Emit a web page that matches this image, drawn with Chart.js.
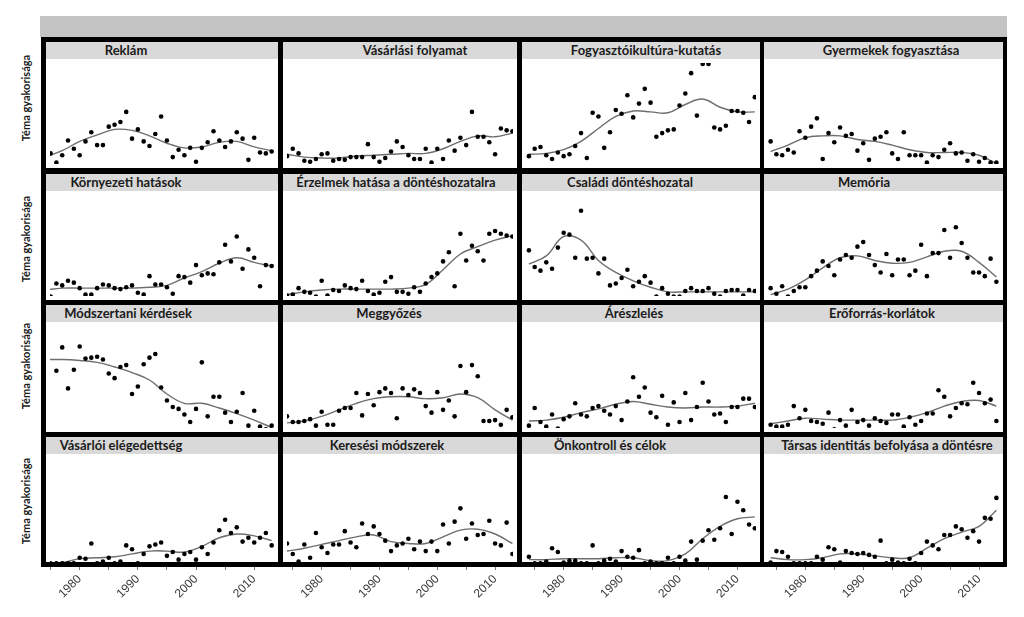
<!DOCTYPE html>
<html>
<head>
<meta charset="utf-8">
<script src="https://cdn.jsdelivr.net/npm/chart.js@4.4.1/dist/chart.umd.min.js"></script>
<style>
	body { margin: 0; width: 1024px; height: 617px; position: relative; overflow: hidden; background: #fff; font-family: Lato, 'Noto Sans', sans-serif; }
	.topbar { position: absolute; left: 40px; top: 16px; width: 967px; height: 21px; background: #c4c4c4; }
	.frame { position: absolute; left: 41px; top: 37px; width: 966px; height: 530px; background: #000; }
	.panel { position: absolute; background: #fff; }
	.strip { position: absolute; left: 0; top: 0; right: 0; height: 17px; background: #d9d9d9; }
	.strip span { position: absolute; top: 0; line-height: 17px; font-size: 13px; font-weight: bold; color: #1b1b1b; white-space: nowrap; transform: translateX(-50%); }
	.ylab { position: absolute; left: 25px; font-size: 11px; font-weight: bold; color: #1b1b1b; white-space: nowrap; transform: translate(-50%, -50%) rotate(-90deg); }
	canvas { position: absolute; }
</style>
</head>
<body>
<div class="topbar"></div>
<div class="frame"></div>

<script>
// évek (x)
const years = [1974, 1975, 1976, 1977, 1978, 1979, 1980, 1981, 1982, 1983,
	1984, 1985, 1986, 1987, 1988, 1989, 1990, 1991, 1992, 1993,
	1994, 1995, 1996, 1997, 1998, 1999, 2000, 2001, 2002, 2003,
	2004, 2005, 2006, 2007, 2008, 2009, 2010, 2011, 2012, 2013];
const trendYears = [1974, 1977, 1980, 1983, 1986, 1989, 1992, 1995, 1998, 2001, 2004, 2007, 2010, 2013];
const tickYears = [1975, 1980, 1985, 1990, 1995, 2000, 2005, 2010];
const tickLabels = ['1980', '1990', '2000', '2010'];
const yLabel = 'Téma gyakorisága';

const titles = [
	'Reklám', 'Vásárlási folyamat', 'Fogyasztóikultúra-kutatás', 'Gyermekek fogyasztása',
	'Környezeti hatások', 'Érzelmek hatása a döntéshozatalra', 'Családi döntéshozatal', 'Memória',
	'Módszertani kérdések', 'Meggyőzés', 'Árészlelés', 'Erőforrás-korlátok',
	'Vásárlói elégedettség', 'Keresési módszerek', 'Önkontroll és célok', 'Társas identitás befolyása a döntésre'
];

// pontok, évenként (null = nem látszik)
const reklam = [null, 13, 3, 11, 27, 18, 11, 26, 36, 22, 22, 42, 44, 47, 58, 29, 39, 26, 21, 34, 53, 27, 9, 17, 11, 19, 4, 19, 25, 37, 27, 20, 26, 36, 29, 6, 30, 14, 13, 15];
const vasarlasi = [10, 18, 13, 5, 4, 7, 12, 13, 5, 7, 6, 9, 9, 9, 23, 9, 4, 8, 15, 26, 20, 11, 7, 7, 18, 3, 18, 7, 27, 16, 30, 22, 58, 31, 31, 25, 12, 40, 38, 37];
const fogyKultura = [10, 18, 20, 11, 7, 14, 10, 12, 21, 35, 8, 57, 53, 19, 36, 60, 56, 76, 52, 67, 83, 68, 31, 35, 38, 39, 65, 78, 100, 54, 110, 110, 41, 39, 43, 59, 59, 57, 47, 74];
const gyermekek = [26, 12, 11, 17, 14, 37, 30, 42, 51, 7, 35, 25, 41, 32, 34, 16, 24, 6, 29, 31, 36, 13, 7, 36, 11, 11, 11, 3, 11, 9, 17, 24, 13, 14, 5, 12, 4, 8, 3, 3];
const kornyezeti = [null, 1, 15, 13, 18, 16, 10, 3, 3, 10, 14, 13, 10, 9, 11, 13, 5, 3, 23, 14, 14, 11, 4, 23, 22, 16, 35, 24, 26, 25, 38, 57, 39, 66, 31, 52, 43, 12, 35, 34];
const erzelmek = [2, 3, 10, 6, 5, 1, 18, 2, 8, 7, 13, 10, 9, 18, 7, 3, 5, 17, 22, 6, 6, 4, 11, 6, 15, 22, 26, 39, 49, 12, 69, 40, 56, 50, 40, 69, 72, 69, 67, 66];
const csaladi = [51, 33, 29, 38, 31, 54, 70, 68, 43, 94, 42, 43, 26, 42, 13, 15, 21, 30, 12, 17, 23, 16, 1, 10, 4, 1, 1, 7, 10, 7, 7, 10, 4, 1, 7, 8, 8, 2, 8, 7];
const memoria = [10, 4, 12, 1, 7, 11, 11, 23, 29, 39, 34, 24, 41, 46, 43, 55, 60, 46, 35, 27, 47, 24, 41, 41, 24, 29, 57, 23, 48, 48, 73, 43, 76, 59, 43, 27, 27, 23, 42, 17];
const modszertani = [null, null, 63, 88, 44, 64, 89, 76, 77, 78, 75, 60, 55, 67, 69, 38, 46, 70, 77, 81, 45, 31, 24, 22, 16, 8, 22, 72, 14, 35, 35, 18, 8, 19, 39, 4, 20, 3, 0, 4];
const meggyozes = [14, 8, 8, 9, 11, 4, 19, 5, 5, 20, 23, 23, 39, 15, 38, 26, 40, 44, 39, 12, 44, 37, 43, 39, 25, 18, 40, 21, 31, 14, 68, 40, 69, 57, 9, 9, 10, 5, 21, 13];
const areszleles = [4, 23, 8, 3, 16, 1, 11, 14, 28, 16, 14, 23, 25, 20, 16, 25, 10, 30, 56, 35, 45, 18, 13, 36, 5, 29, 8, 39, 10, 24, 50, 30, 16, 17, 8, 24, 24, 33, 33, 24];
const eroforras = [5, 3, 3, 5, 25, 12, 21, 9, 8, 6, 18, 0, 10, 4, 21, 8, 10, 4, 12, 9, 7, 16, 16, 3, 13, 5, 9, 17, 17, 42, 35, 14, 23, 28, 27, 50, 39, 28, 32, 9];
const elegedettseg = [null, 0, 0, 0, 0, 0, 6, 5, 21, 0, 2, 6, 0, 2, 19, 15, 0, 10, 18, 20, 22, 8, 12, 4, 10, 12, 4, 17, 10, 22, 35, 46, 32, 38, 23, 27, 22, 27, 32, 19];
const kereses = [21, 10, 2, 20, 6, 32, 17, 11, 20, 20, 34, 22, 17, 42, 31, 39, 31, 24, 13, 19, 21, 26, 15, 23, 13, 23, 13, 41, 21, 44, 58, 26, 42, 30, 31, 45, 21, 19, 43, 10];
const onkontroll = [7, 0, 0, 2, 16, 12, 1, 3, 3, 0, 0, 19, 0, 3, 5, 2, 13, 7, 6, 14, 0, 2, 0, 0, 6, 0, 7, 3, 23, 4, 24, 35, 25, 37, 70, 31, 65, 56, 41, 37];
const tarsas = [1, 13, 12, 7, 0, 0, 0, 0, 7, 4, 17, 15, 1, 13, 11, 10, 11, 9, 7, 24, 0, 4, 1, 0, 5, 0, 11, 23, 19, 15, 30, 30, 39, 36, 27, 34, 23, 48, 47, 69];

// simított görbék (trendYears)
const reklamTrend = [9, 16, 26, 33, 39, 38, 32, 24, 19, 20, 25, 26, 20, 16];
const vasarlasiTrend = [12, 9, 8, 8, 10, 11, 12, 13, 13, 18, 26, 32, 31, 35];
const fogyKulturaTrend = [12, 13, 17, 26, 40, 53, 59, 58, 57, 66, 72, 63, 58, 58];
const gyermekekTrend = [15, 22, 30, 32, 32, 28, 26, 22, 17, 14, 14, 14, 11, 2];
const kornyezetiTrend = [8, 10, 10, 10, 10, 10, 11, 13, 21, 28, 37, 43, 38, 34];
const erzelmekTrend = [3, 6, 8, 9, 9, 9, 9, 10, 14, 30, 47, 55, 62, 67];
const csaladiTrend = [36, 45, 66, 62, 40, 27, 18, 11, 6, 6, 6, 6, 6, 6];
const memoriaTrend = [3, 9, 19, 32, 43, 45, 40, 37, 38, 44, 50, 50, 38, 22];
const modszertaniTrend = [75, 75, 74, 72, 67, 61, 53, 38, 28, 28, 23, 17, 10, 2];
const meggyozesTrend = [7, 9, 14, 21, 28, 33, 35, 35, 33, 34, 38, 34, 21, 10];
const areszlelesTrend = [9, 10, 13, 18, 22, 27, 30, 27, 24, 23, 24, 24, 25, 28];
const eroforrasTrend = [6, 9, 12, 11, 10, 10, 10, 10, 13, 18, 25, 30, 31, 25];
const elegedettsegTrend = [0, 1, 5, 6, 7, 10, 13, 13, 12, 18, 27, 31, 29, 24];
const keresesTrend = [13, 16, 20, 24, 28, 30, 23, 21, 21, 28, 35, 36, 31, 21];
const onkontrollTrend = [4, 4, 5, 5, 5, 6, 6, 3, 3, 10, 26, 39, 47, 49];
const tarsasTrend = [6, 4, 4, 6, 10, 10, 8, 6, 6, 16, 26, 33, 39, 56];

const pointSeries = [reklam, vasarlasi, fogyKultura, gyermekek, kornyezeti, erzelmek, csaladi, memoria,
	modszertani, meggyozes, areszleles, eroforras, elegedettseg, kereses, onkontroll, tarsas];
const trendSeries = [reklamTrend, vasarlasiTrend, fogyKulturaTrend, gyermekekTrend, kornyezetiTrend, erzelmekTrend,
	csaladiTrend, memoriaTrend, modszertaniTrend, meggyozesTrend, areszlelesTrend, eroforrasTrend,
	elegedettsegTrend, keresesTrend, onkontrollTrend, tarsasTrend];

// --- layout (pixels) ---
const colLeft = [46, 283, 522, 764];
const colWidth = [232, 234, 238, 239];
const colRange = [[1974.9, 2013.4], [1974.0, 2013.1], [1973.5, 2013.2], [1973.55, 2013.45]];
const rowTop = [42, 174, 305, 437];
const rowBottom = [168, 300, 432, 562];
const stripH = 17;
const titleCenter = [80, 132, 124, 127, 80, 113, 108, 100, 82, 106, 112, 118, 75, 104, 88, 123];
const yLabelCenter = [98, 239, 366, 501];
const axisH = 55;

function pairs(xs, ys) {
	let out = [];
	for (let i = 0; i < xs.length; i++) {
		if (ys[i] !== null) out.push({ x: xs[i], y: ys[i] });
	}
	return out;
}

function makePanel(idx) {
	let row = Math.floor(idx / 4);
	let col = idx % 4;
	let bottomRow = row === 3;

	let panel = document.createElement('div');
	panel.className = 'panel';
	panel.style.left = colLeft[col] + 'px';
	panel.style.top = rowTop[row] + 'px';
	panel.style.width = colWidth[col] + 'px';
	panel.style.height = (rowBottom[row] - rowTop[row]) + 'px';

	let strip = document.createElement('div');
	strip.className = 'strip';
	let span = document.createElement('span');
	span.textContent = titles[idx];
	span.style.left = titleCenter[idx] + 'px';
	strip.appendChild(span);
	panel.appendChild(strip);
	document.body.appendChild(panel);

	let plotTop = rowTop[row] + stripH;
	let plotH = rowBottom[row] - plotTop;
	let canvas = document.createElement('canvas');
	canvas.width = colWidth[col];
	canvas.height = plotH + (bottomRow ? axisH : 0);
	canvas.style.left = colLeft[col] + 'px';
	canvas.style.top = plotTop + 'px';
	canvas.style.width = canvas.width + 'px';
	canvas.style.height = canvas.height + 'px';
	document.body.appendChild(canvas);

	new Chart(canvas.getContext('2d'), {
		type: 'scatter',
		data: {
			datasets: [
				{
					data: pairs(years, pointSeries[idx]),
					pointRadius: 2.3,
					pointBackgroundColor: '#000',
					pointBorderWidth: 0,
					showLine: false
				},
				{
					data: pairs(trendYears, trendSeries[idx]),
					showLine: true,
					pointRadius: 0,
					borderColor: '#6e6e6e',
					borderWidth: 1.4,
					tension: 0.4
				}
			]
		},
		options: {
			responsive: false,
			animation: false,
			layout: { padding: 0 },
			plugins: { legend: { display: false }, tooltip: { enabled: false } },
			scales: {
				x: {
					type: 'linear',
					display: bottomRow,
					min: colRange[col][0],
					max: colRange[col][1],
					afterBuildTicks: (scale) => {
						scale.ticks = tickYears.map(v => ({ value: v }));
					},
					// only the bottom row keeps room for the year labels
					afterFit: (scale) => { scale.height = bottomRow ? axisH : 0; },
					// transparent border only pushes the tick marks below the black frame
					border: { display: true, width: 10, color: 'rgba(0,0,0,0)' },
					grid: { drawOnChartArea: false, drawTicks: true, tickLength: 8, color: '#777', lineWidth: 1 },
					ticks: {
						autoSkip: false,
						minRotation: 45,
						maxRotation: 45,
						padding: 2,
						color: '#3a3a3a',
						font: { family: "'Liberation Sans', Arial, sans-serif", size: 12 },
						callback: (v) => tickLabels.includes(String(v)) ? String(v) : ''
					}
				},
				y: { display: false, min: 1.5, max: 111 }
			}
		}
	});
}

for (let i = 0; i < 16; i++) makePanel(i);

for (let r = 0; r < 4; r++) {
	let lab = document.createElement('div');
	lab.className = 'ylab';
	lab.textContent = yLabel;
	lab.style.top = yLabelCenter[r] + 'px';
	document.body.appendChild(lab);
}
</script>
</body>
</html>
